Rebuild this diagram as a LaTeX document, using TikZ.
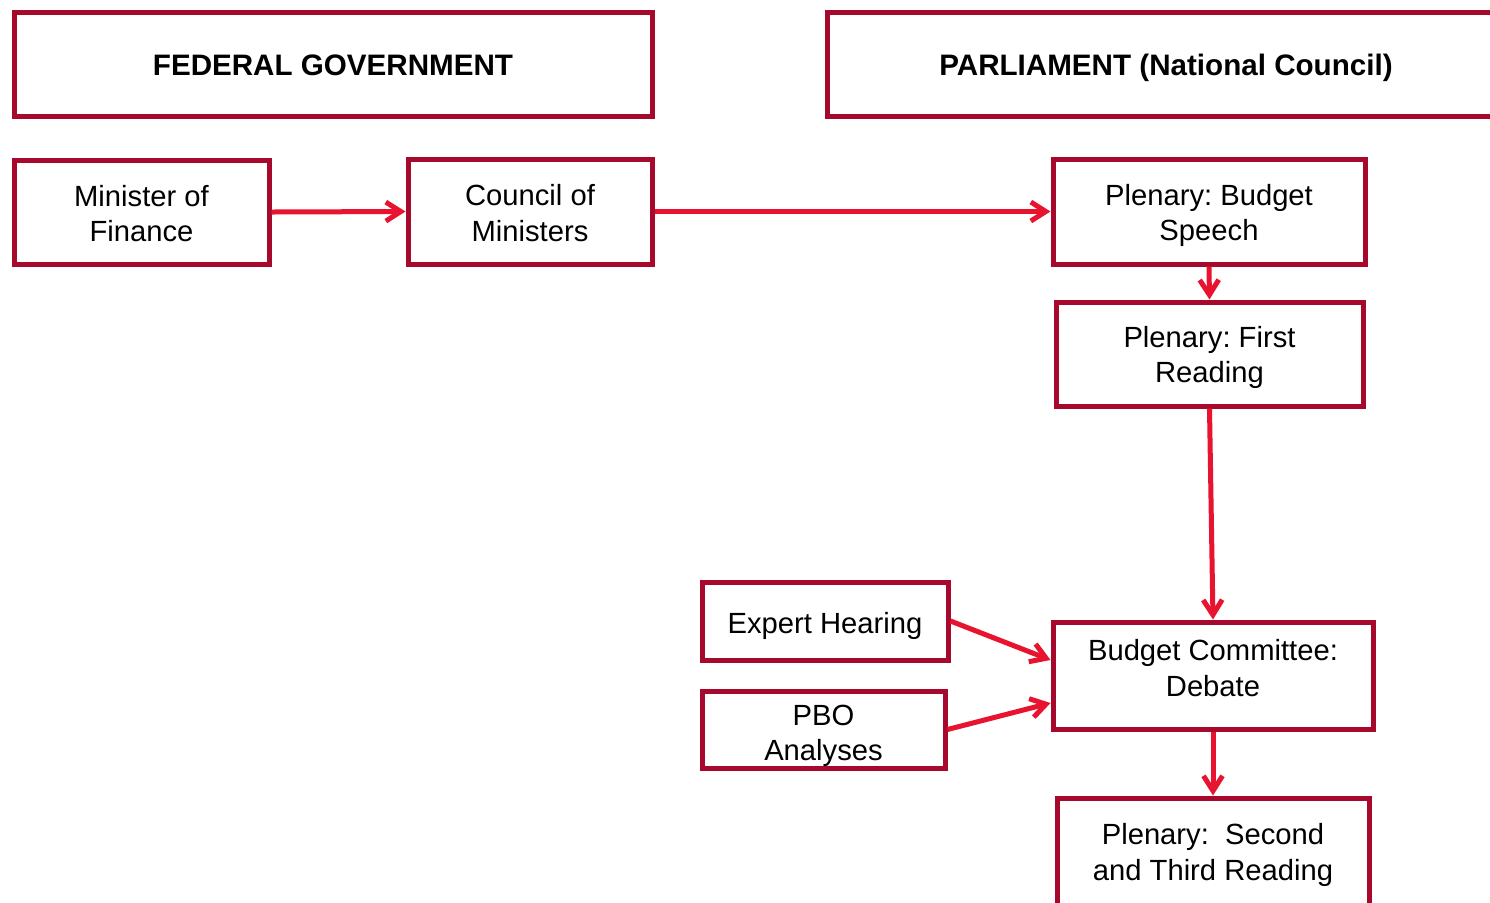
\documentclass[tikz,border=0pt]{standalone}
\usepackage{fontspec}
\setmainfont{Liberation Sans}
\usetikzlibrary{arrows.meta}
\definecolor{boxred}{HTML}{A6092B}
\definecolor{arrred}{HTML}{E8132F}
\frenchspacing
\begin{document}
\begin{tikzpicture}[x=0.5pt,y=-0.5pt,
  box/.style={draw=boxred,line width=2.5pt,rectangle,inner sep=0pt},
  txt/.style={inner sep=0pt,align=center,anchor=base,
    font=\fontsize{14.6pt}{17.75pt}\selectfont\frenchspacing,text=black},
  htxt/.style={txt,font=\fontsize{14.8pt}{17.75pt}\selectfont\bfseries},
  conn/.style={draw=arrred,line width=2.5pt,-{Straight Barb[length=7.5pt,width=9.5pt]}}]
\useasboundingbox (0,0) rectangle (1490,902);
\fill[white] (0,0) rectangle (1490,902);
% boxes
\node[box,minimum width=319pt,minimum height=52pt] (fed) at (333,64.5) {};
\node[box,minimum width=340pt,minimum height=52pt] (parl) at (1167,64.5) {};
\node[box,minimum width=127.5pt,minimum height=52pt] (min) at (141.5,212) {};
\node[box,minimum width=122pt,minimum height=52.5pt] (cou) at (530,211.5) {};
\node[box,minimum width=156pt,minimum height=52.5pt] (pbs) at (1209,211.5) {};
\node[box,minimum width=153.5pt,minimum height=52pt] (pfr) at (1209.5,354) {};
\node[box,minimum width=123pt,minimum height=39pt] (exp) at (825,621) {};
\node[box,minimum width=121.5pt,minimum height=38.5pt] (pbo) at (823.5,729.5) {};
\node[box,minimum width=160pt,minimum height=53.5pt] (com) at (1213,675.5) {};
\node[box,minimum width=156pt,minimum height=55pt] (sec) at (1213,853) {};
% texts (base = last-line baseline)
\node[htxt] (fedt) at (333,75) {FEDERAL GOVERNMENT};
\node[htxt] (parlt) at (1166,75) {PARLIAMENT (National Council)};
\node[txt] (mint) at (141.5,241.5) {Minister of\\Finance};
\node[txt] (cout) at (530,241) {Council of\\Ministers};
\node[txt] (pbst) at (1209,240.5) {Plenary: Budget\\Speech};
\node[txt] (pfrt) at (1209.5,382.5) {Plenary: First\\Reading};
\node[txt] (expt) at (825,633) {Expert Hearing};
\node[txt] (pbot) at (823.5,760.5) {PBO\\Analyses};
\node[txt] (comt) at (1213,696) {Budget Committee:\\Debate};
\node[txt] (sect) at (1213,880) {Plenary:\ \ Second\\and Third Reading};
% connectors
\draw[conn] (min.east) -- (cou.west);
\draw[conn] (cou.east) -- (pbs.west);
\draw[conn] (pbs.south) -- (pfr.north);
\draw[conn] (pfr.south) -- (com.north);
\draw[conn] (exp.east) -- ([yshift=7.75pt]com.west);
\draw[conn] (pbo.east) -- ([yshift=-13.75pt]com.west);
\draw[conn] (com.south) -- (sec.north);
\end{tikzpicture}
\end{document}
